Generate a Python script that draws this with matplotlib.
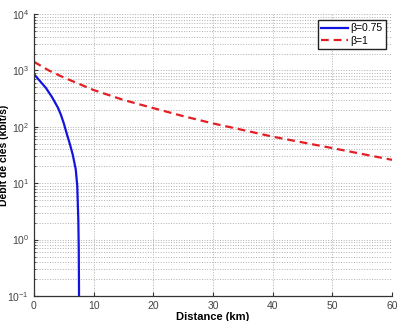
import matplotlib
matplotlib.use('Agg')
import matplotlib.pyplot as plt

# beta = 0.75 (key rate collapses near 7.5 km)
dist_075 = [0, 1, 2, 3, 4, 4.5, 5, 5.5, 6, 6.5, 7, 7.25, 7.43, 7.5, 7.54, 7.56]
rate_075 = [860, 650, 490, 340, 220, 165, 115, 75, 50, 32, 17.5, 9, 2.2, 0.7, 0.15, 0.05]

# beta = 1
dist_1 = [0, 2.5, 5, 10, 15, 20, 25, 30, 35, 40, 45, 50, 55, 60]
rate_1 = [1425, 1000, 750, 450, 300, 215, 155, 115, 88, 67, 53, 42, 33, 26]

plt.rcParams['font.family'] = ['Liberation Sans', 'DejaVu Sans']

fig = plt.figure(figsize=(3.98, 3.21), dpi=100)
ax = fig.add_axes([0.0854, 0.078, 0.8996, 0.878])

ax.plot(dist_075, rate_075, color='#1414e0', lw=1.6, label='β=0.75')
ax.plot(dist_1, rate_1, color='#e41e24', lw=1.6, ls=(0, (3.5, 2.2)), label='β=1')

ax.set_yscale('log')
ax.set_xlim(0, 60)
ax.set_ylim(1e-1, 1e4)
ax.set_xticks([0, 10, 20, 30, 40, 50, 60])
ax.set_yticks([1e-1, 1e0, 1e1, 1e2, 1e3, 1e4])

ax.grid(True, which='major', axis='both', color='#b0b0b0', ls=':', lw=0.7)
ax.grid(True, which='minor', axis='y', color='#b0b0b0', ls=':', lw=0.7)

for side in ['top', 'right']:
    ax.spines[side].set_visible(False)
for side in ['left', 'bottom']:
    ax.spines[side].set_color('#333333')
    ax.spines[side].set_linewidth(0.9)

ax.tick_params(which='both', direction='in', labelsize=7.5, colors='#333333',
               labelcolor='#444444')
ax.tick_params(which='major', length=3)
ax.tick_params(which='minor', length=1.5)

ax.set_xlabel('Distance (km)', fontsize=8, fontweight='bold', labelpad=1)
ax.set_ylabel('Débit de clés (kbit/s)', fontsize=7.5, fontweight='bold')
ax.yaxis.set_label_coords(-0.071, 0.5)

leg = ax.legend(loc='upper right', fontsize=7.5, fancybox=False, framealpha=1,
                edgecolor='#222222', borderpad=0.3, handlelength=2.6,
                handletextpad=0.2, labelspacing=0.2, borderaxespad=0.6)
leg.get_frame().set_linewidth(1.0)

fig.savefig('out.png', dpi=100)
